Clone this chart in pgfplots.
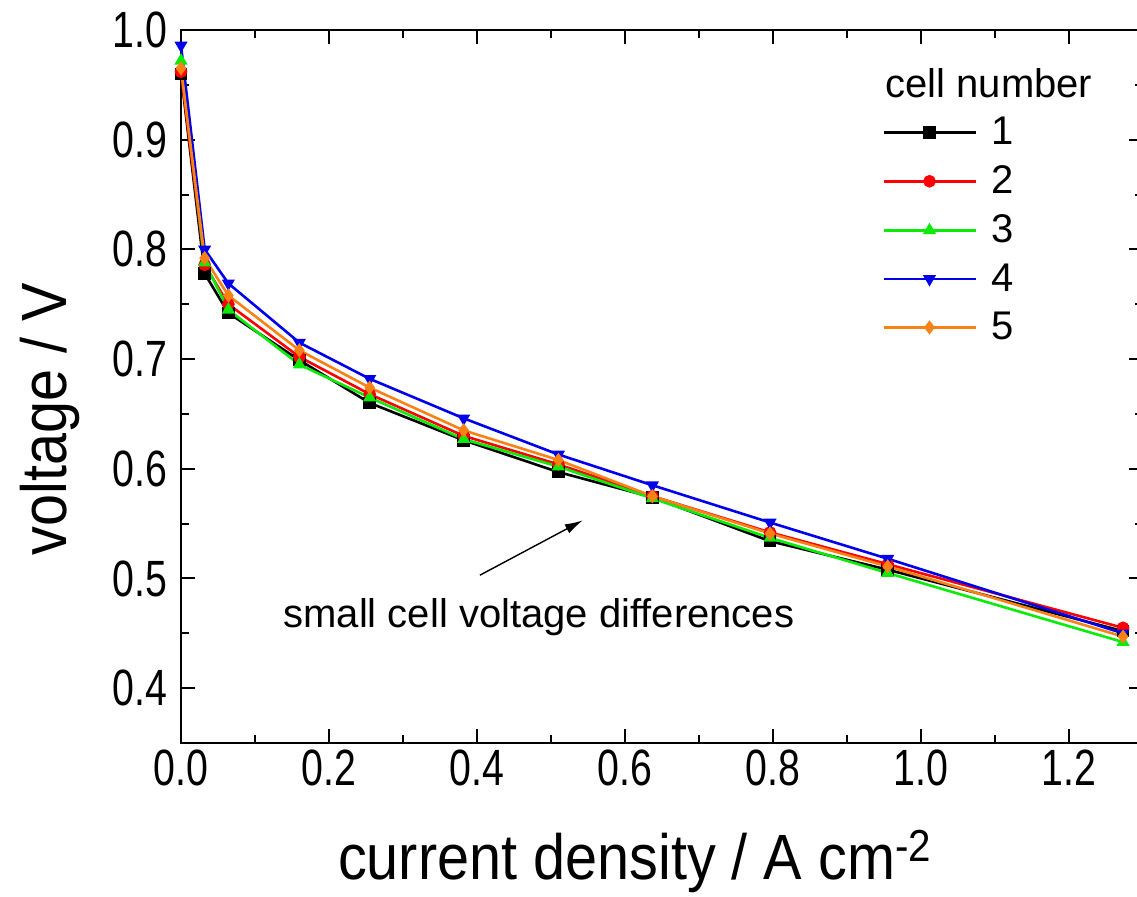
\documentclass[border=0pt]{standalone}
\usepackage{fontspec}
\setmainfont{Liberation Sans}
\newfontfamily\ticksfont[FakeStretch=0.77]{Liberation Sans}
\newfontfamily\labelfont[FakeStretch=0.9]{Liberation Sans}
\usepackage{pgfplots}
\pgfplotsset{compat=1.18}
\usetikzlibrary{arrows.meta}

\definecolor{cgreen}{RGB}{10,235,10}
\definecolor{cblue}{RGB}{0,0,235}
\definecolor{corange}{RGB}{250,130,20}

\begin{document}
\begin{tikzpicture}
\begin{axis}[
    name=ax,
    scale only axis,
    width=481pt, height=356.5pt,
    xmin=0, xmax=1.3, ymin=0.35, ymax=1.0,
    xtick={0,0.2,...,1.2}, ytick={0.4,0.5,...,1.0},
    minor x tick num=1, minor y tick num=1,
    major tick length=7pt, minor tick length=4pt,
    axis line style={line width=1pt},
    every tick/.style={black, line width=1pt},
    /pgf/number format/assume math mode=true,
    /pgf/number format/fixed, /pgf/number format/fixed zerofill,
    /pgf/number format/precision=1,
    tick label style={font=\fontsize{25.5}{30}\selectfont\ticksfont},
    yticklabel style={xshift=-3.5pt},
    xlabel={current density / A cm\textsuperscript{-2}},
    ylabel={voltage / V},
    label style={font=\fontsize{32}{38}\selectfont\labelfont},
    xlabel style={at={(axis description cs:0.472,-0.192)}, anchor=base},
    ylabel style={at={(axis description cs:-0.1185,0.454)}, anchor=base},
    every axis plot/.append style={line width=1.3pt, mark size=2.5pt},
    legend image code/.code={\draw[mark repeat=2,mark phase=2] plot coordinates {(0pt,0pt) (23pt,0pt) (46pt,0pt)};},
    legend cell align=left,
    legend style={draw=none, fill=none, inner sep=0pt,
        at={(axis description cs:0.7285,0.7195)}, anchor=west,
        font=\fontsize{20}{24}\selectfont, row sep=9pt, column sep=7.5pt,
        nodes={inner sep=0pt}},
]
\addplot[black, mark=square*] coordinates {
(0,0.960) (0.032,0.778) (0.064,0.742) (0.16,0.699) (0.255,0.660) (0.382,0.626)
(0.51,0.597) (0.637,0.574) (0.796,0.534) (0.955,0.508) (1.273,0.452)};
\addlegendentry{1}
\addplot[red, mark=*] coordinates {
(0,0.962) (0.032,0.786) (0.064,0.750) (0.16,0.702) (0.255,0.668) (0.382,0.630)
(0.51,0.604) (0.637,0.575) (0.796,0.542) (0.955,0.513) (1.273,0.455)};
\addlegendentry{2}
\addplot[cgreen, mark=triangle*] coordinates {
(0,0.972) (0.032,0.788) (0.064,0.745) (0.16,0.695) (0.255,0.665) (0.382,0.627)
(0.51,0.602) (0.637,0.573) (0.796,0.537) (0.955,0.505) (1.273,0.442)};
\addlegendentry{3}
\addplot[cblue, mark=triangle*, mark options={rotate=180}] coordinates {
(0,0.986) (0.032,0.800) (0.064,0.769) (0.16,0.715) (0.255,0.682) (0.382,0.646)
(0.51,0.613) (0.637,0.585) (0.796,0.551) (0.955,0.518) (1.273,0.450)};
\addlegendentry{4}
\addplot[corange, mark=diamond*] coordinates {
(0,0.965) (0.032,0.792) (0.064,0.758) (0.16,0.708) (0.255,0.674) (0.382,0.635)
(0.51,0.608) (0.637,0.575) (0.796,0.541) (0.955,0.511) (1.273,0.447)};
\addlegendentry{5}

\node[anchor=base west, inner sep=0pt, font=\fontsize{20}{24}\selectfont]
    at (axis description cs:0.732,0.906) {cell number};
\draw[line width=0.7pt, -{Latex[length=9pt,width=5pt]}]
    (axis cs:0.404,0.503) -- (axis cs:0.543,0.553);
\node[anchor=base west, inner sep=0pt, font=\fontsize{20}{24}\selectfont]
    at (axis cs:0.138,0.455) {small cell voltage differences};
\end{axis}
\pgfresetboundingbox
\path[use as bounding box] ([xshift=-90.5pt,yshift=-76.5pt]ax.south west)
    rectangle ([xshift=478pt,yshift=371.5pt]ax.south west);
\end{tikzpicture}
\end{document}
